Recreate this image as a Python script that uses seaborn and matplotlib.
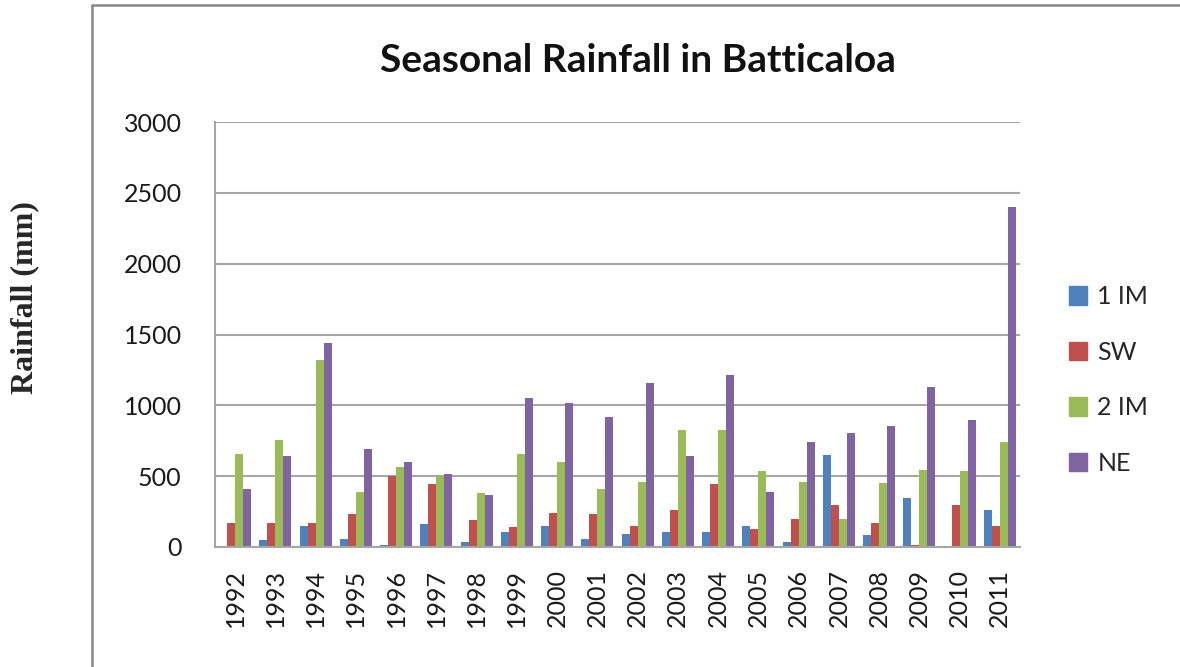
import matplotlib
matplotlib.use("Agg")
import matplotlib.pyplot as plt
from matplotlib.lines import Line2D
import seaborn as sns
import pandas as pd

years = [str(y) for y in range(1992, 2012)]
im1 = [0, 47, 148, 56, 14, 160, 35, 108, 150, 56, 89, 108, 108, 148, 35, 650, 87, 347, 0, 263]
sw = [172, 172, 172, 235, 499, 442, 193, 139, 242, 233, 150, 263, 442, 127, 200, 293, 171, 12, 293, 148]
im2 = [659, 755, 1318, 388, 567, 501, 378, 658, 597, 411, 461, 827, 827, 533, 460, 200, 451, 545, 533, 742]
ne = [409, 640, 1442, 694, 598, 515, 367, 1055, 1015, 919, 1161, 639, 1212, 387, 742, 805, 857, 1127, 899, 2399]
seasons = ["1 IM", "SW", "2 IM", "NE"]
colors = ["#4F81BD", "#C0504D", "#9BBB59", "#8064A2"]

rows = []
for s, vals in zip(seasons, [im1, sw, im2, ne]):
    for y, v in zip(years, vals):
        rows.append({"Year": y, "Season": s, "Rainfall": v})
df = pd.DataFrame(rows)

sns.set_style("white")
plt.rcParams['font.family'] = ['Lato', 'DejaVu Sans']

fig = plt.figure(figsize=(11.8, 6.67), dpi=100)
ax = fig.add_axes([215/1180, 1-547/667, (1020-215)/1180, (547-122)/667])

sns.barplot(data=df, x="Year", y="Rainfall", hue="Season", hue_order=seasons,
            order=years, palette=colors, width=0.8, linewidth=0, saturation=1,
            errorbar=None, ax=ax)

ax.set_ylim(0, 3000)
ax.set_yticks([0, 500, 1000, 1500, 2000, 2500, 3000])
ax.set_xlim(-0.5, len(years)-0.5)
ax.yaxis.grid(True, color="#A6A6A6", linewidth=1.5)
ax.set_axisbelow(True)
for side in ["top", "right"]:
    ax.spines[side].set_visible(False)
for side in ["left", "bottom"]:
    ax.spines[side].set_color("#A6A6A6")
    ax.spines[side].set_linewidth(1.5)
ax.tick_params(axis="both", length=0, labelsize=18, colors="#1a1a1a")
ax.tick_params(axis="y", pad=24)
ax.tick_params(axis="x", pad=16)
plt.setp(ax.get_xticklabels(), rotation=90)
ax.set_xlabel("")
ax.set_ylabel("")

handles = [plt.Rectangle((0, 0), 1, 1, color=c) for c in colors]
ax.legend(handles, seasons, loc="center left", bbox_to_anchor=(1046/1180, 1-380/667),
          bbox_transform=fig.transFigure, frameon=False, fontsize=18,
          handlelength=0.75, handleheight=0.75, handletextpad=0.4, labelspacing=1.3)

fig.text(638/1180, 1-60/667, "Seasonal Rainfall in Batticaloa", ha="center", va="center",
         fontsize=28, fontweight="bold", color="#111111")
fig.text(25/1180, 1-298/667, "Rainfall (mm)", ha="center", va="center", rotation=90,
         fontsize=23, fontweight="bold", family=["Liberation Serif", "DejaVu Serif"])

fig.add_artist(Line2D([92/1180, 92/1180], [0, 1-5/667], transform=fig.transFigure,
                      color="#888888", linewidth=1.8))
fig.add_artist(Line2D([92/1180, 1], [1-5/667, 1-5/667], transform=fig.transFigure,
                      color="#888888", linewidth=1.8))

fig.savefig("out.png", dpi=100)
